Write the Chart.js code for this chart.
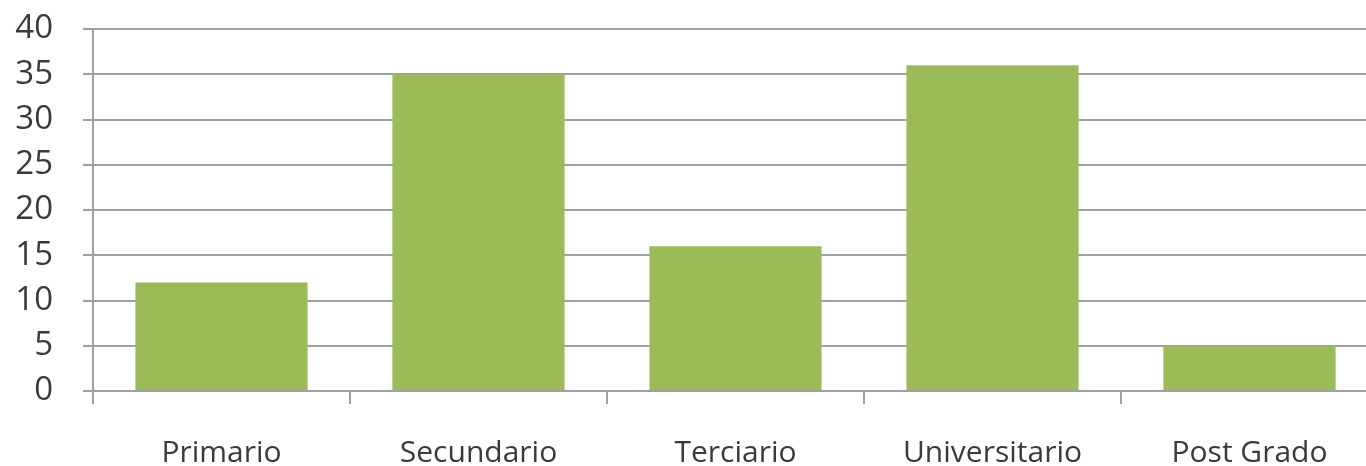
<!DOCTYPE html>
<html>
<head>
<meta charset="utf-8">
<script src="https://cdn.jsdelivr.net/npm/chart.js@4"></script>
<style>
  html, body { margin: 0; padding: 0; background: #fff; overflow: hidden; }
  #wrap { width: 1378px; height: 466px; }
</style>
</head>
<body>
<div id="wrap"><canvas id="grafico"></canvas></div>
<script>
// niveles educativos
var categorias = ['Primario', 'Secundario', 'Terciario', 'Universitario', 'Post Grado'];
var valores = [12, 35, 16, 36, 5];
var ticksY = [0, 5, 10, 15, 20, 25, 30, 35, 40];

var gris = '#a0a0a0';
var texto = '#3a3a3a';
var fuente = "'Open Sans', 'DejaVu Sans', sans-serif";

var ctx = document.getElementById('grafico').getContext('2d');
var myChart = new Chart(ctx, {
    type: 'bar',
    data: {
        labels: categorias,
        datasets: [{
            data: valores,
            backgroundColor: '#9bbb59',
            borderWidth: 0,
            barPercentage: 0.67,
            categoryPercentage: 1
        }]
    },
    options: {
        responsive: true,
        maintainAspectRatio: false,
        animation: false,
        layout: { padding: { top: 29, right: 0, left: 0, bottom: 0 } },
        plugins: {
            legend: { display: false },
            tooltip: { enabled: false }
        },
        scales: {
            x: {
                offset: true,
                grid: {
                    offset: true,
                    drawOnChartArea: false,
                    color: gris,
                    lineWidth: 2,
                    tickLength: 13
                },
                border: { color: gris, width: 2 },
                ticks: {
                    color: texto,
                    font: { family: fuente, size: 30 },
                    padding: 31,
                    maxRotation: 0
                },
                afterFit: function(scale) { scale.height = 75; }
            },
            y: {
                min: 0,
                max: 40,
                afterBuildTicks: function(scale) {
                    scale.ticks = ticksY.map(function(v) { return { value: v }; });
                },
                grid: {
                    color: gris,
                    lineWidth: 2,
                    tickLength: 10
                },
                border: { color: gris, width: 2 },
                ticks: {
                    color: texto,
                    font: { family: fuente, size: 33 },
                    padding: 30
                },
                afterFit: function(scale) {
                    scale.width = 93;
                    scale.paddingTop = 0;
                    scale.paddingBottom = 0;
                }
            }
        }
    }
});
</script>
</body>
</html>
